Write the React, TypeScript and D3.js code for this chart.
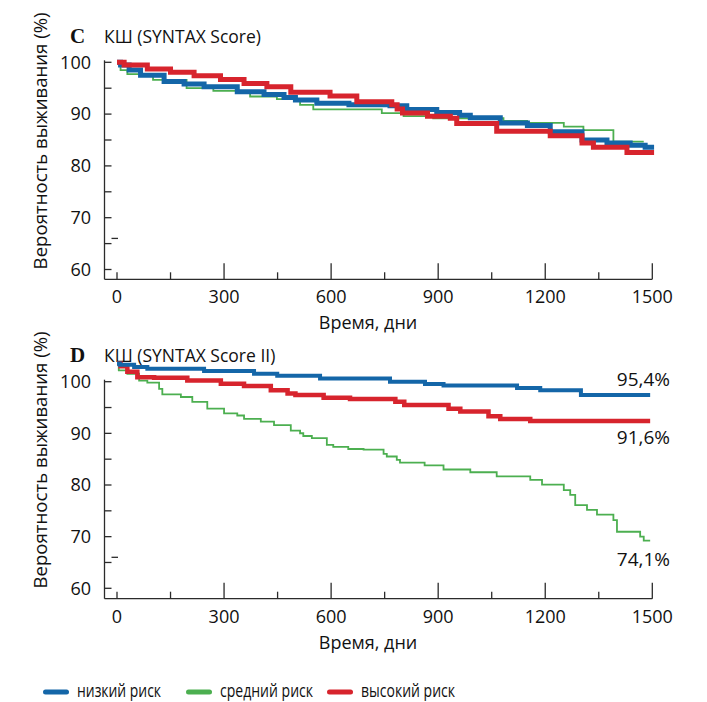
import React from "react";
import * as d3 from "d3";

type Point = [number, number]; // [day, survival %]

const X_TICKS = [0, 300, 600, 900, 1200, 1500];
const X_MINOR_TICKS = [150, 450, 750, 1050, 1350];
const Y_TICKS = [60, 70, 80, 90, 100];
const Y_MINOR_TICKS = [65, 75, 85, 95];
const STRAY_MARK = 66;

const RISK_LABELS = ["низкий риск", "средний риск", "высокий риск"];
const RISK_COLORS = ["#1466a8", "#4caf50", "#d7242d"];

// Panel C — КШ by SYNTAX Score
const syntaxLow: Point[] = [
  [0, 100], [10, 99.5], [34, 98.5], [66, 97.5], [132, 96.3], [188, 95.8], [244, 95.3],
  [337, 94.3], [412, 93.8], [468, 93.2], [500, 92.7], [560, 92.1], [650, 91.8], [765, 91.6],
  [812, 90.9], [896, 90.3], [960, 89.8], [990, 89.3], [1074, 88.3], [1150, 87.8],
  [1214, 86.6], [1303, 85.0], [1373, 84.4], [1438, 84.0], [1480, 83.6], [1505, 83.6],
];
const syntaxMid: Point[] = [
  [0, 100], [10, 98.5], [29, 97.7], [101, 96.6], [195, 95.0], [270, 94.5], [373, 93.4],
  [448, 92.9], [513, 91.8], [550, 90.9], [742, 90.2], [803, 89.6], [886, 89.2],
  [1083, 88.7], [1149, 88.3], [1252, 87.6], [1307, 86.9], [1391, 84.7], [1476, 84.7],
];
const syntaxHigh: Point[] = [
  [0, 100], [20, 99.5], [85, 98.7], [150, 98.1], [216, 97.4], [290, 96.7], [356, 95.9],
  [420, 95.3], [487, 94.2], [597, 93.5], [672, 92.4], [770, 91.8], [785, 91.0], [800, 90.2],
  [870, 89.6], [934, 89.2], [952, 88.2], [1064, 86.7], [1214, 85.8], [1303, 84.4],
  [1335, 83.6], [1429, 82.6], [1505, 82.6],
];

// Panel D — КШ by SYNTAX Score II
const syntax2Low: Point[] = [
  [0, 100], [8, 99.8], [48, 99.5], [85, 99.25], [244, 98.9], [384, 98.5], [449, 98.2],
  [569, 97.8], [765, 97.35], [863, 97.0], [915, 96.8], [1121, 96.4], [1186, 96.1],
  [1300, 95.4], [1494, 95.4],
];
const syntax2Mid: Point[] = [
  [0, 100], [5, 99.0], [29, 98.5], [62, 97.5], [85, 97.2], [118, 96.3], [127, 95.5],
  [179, 95.1], [211, 94.4], [253, 93.4], [300, 92.7], [337, 92.4], [356, 91.9], [403, 91.5],
  [440, 91.0], [487, 90.2], [513, 89.8], [522, 89.4], [546, 89.1], [588, 88.1], [606, 87.8],
  [648, 87.5], [691, 87.4], [747, 86.8], [756, 86.4], [784, 85.9], [793, 85.5], [862, 85.1],
  [915, 84.5], [990, 84.1], [1064, 83.5], [1158, 83.0], [1191, 82.3], [1252, 81.5],
  [1270, 80.8], [1284, 79.3], [1317, 78.6], [1345, 77.9], [1391, 77.1], [1401, 75.4],
  [1466, 74.7], [1476, 74.1], [1494, 74.1],
];
const syntax2High: Point[] = [
  [0, 100], [10, 99.6], [29, 98.8], [57, 98.0], [104, 97.9], [197, 97.5], [291, 97.05],
  [356, 96.7], [431, 96.1], [478, 95.6], [500, 95.4], [579, 95.0], [653, 94.8], [780, 94.4],
  [805, 93.95], [929, 93.4], [962, 93.0], [1041, 92.3], [1074, 91.9], [1158, 91.6],
  [1494, 91.6],
];

const FONT = "'Open Sans', 'Noto Sans', sans-serif";
const AXIS_COLOR = "#2b2b2b";
const X_RANGE: [number, number] = [117, 652.3];
const AXIS_X = 104.5;

interface PanelSpec {
  letter: string;
  title: string;
  titleBaseline: number;
  y60: number;
  y100: number;
  base: number;
  curve60: number;
  curve100: number;
  series: Point[][];
  widths: number[];
  order: number[];
  endLabelOffsets?: number[];
}

const fmtPct = (v: number) => d3.format(".1f")(v).replace(".", ",") + "%";

function Panel({ p }: { p: PanelSpec }) {
  const x = d3.scaleLinear().domain([0, 1500]).range(X_RANGE);
  const yAxis = d3.scaleLinear().domain([60, 100]).range([p.y60, p.y100]);
  const yCurve = d3.scaleLinear().domain([60, 100]).range([p.curve60, p.curve100]);
  const line = d3
    .line<Point>()
    .x((d) => x(d[0]))
    .y((d) => yCurve(d[1]))
    .curve(d3.curveStepAfter);
  const yTitleCenter = (yAxis(60) + yAxis(100)) / 2 - 25;

  return (
    <g>
      <text x={70} y={p.titleBaseline} fontFamily="'Liberation Serif', serif" fontWeight="bold" fontSize={21} fill="#111">
        {p.letter}
      </text>
      <text x={104} y={p.titleBaseline} fontFamily={FONT} fontSize={17.5} fill="#111">
        {p.title}
      </text>

      {/* y axis */}
      <line x1={AXIS_X} x2={AXIS_X} y1={yAxis(100) - 2} y2={p.base} stroke={AXIS_COLOR} strokeWidth={1.3} />
      {[...Y_TICKS, ...Y_MINOR_TICKS].map((t) => (
        <line key={"yt" + t} x1={AXIS_X} x2={AXIS_X + 7} y1={yAxis(t)} y2={yAxis(t)} stroke={AXIS_COLOR} strokeWidth={1.3} />
      ))}
      <line x1={AXIS_X + 7} x2={AXIS_X + 13.5} y1={yAxis(STRAY_MARK)} y2={yAxis(STRAY_MARK)} stroke={AXIS_COLOR} strokeWidth={1.3} />
      {Y_TICKS.map((t) => (
        <text key={"yl" + t} x={91} y={yAxis(t)} dy="0.35em" textAnchor="end" fontFamily={FONT} fontSize={18} fill="#111">
          {t}
        </text>
      ))}
      <text
        transform={`translate(46.5, ${yTitleCenter}) rotate(-90)`}
        textAnchor="middle"
        fontFamily={FONT}
        fontSize={18.6}
        fill="#111"
      >
        Вероятность выживания (%)
      </text>

      {/* x axis */}
      <line x1={AXIS_X} x2={x(1500)} y1={p.base} y2={p.base} stroke={AXIS_COLOR} strokeWidth={1.3} />
      {X_TICKS.map((t) => (
        <line key={"xt" + t} x1={x(t)} x2={x(t)} y1={p.base} y2={p.base - (t === 0 ? 7 : 16)} stroke={AXIS_COLOR} strokeWidth={1.3} />
      ))}
      {X_MINOR_TICKS.map((t) => (
        <line key={"xm" + t} x1={x(t)} x2={x(t)} y1={p.base} y2={p.base - 7} stroke={AXIS_COLOR} strokeWidth={1.3} />
      ))}
      {X_TICKS.map((t) => (
        <text key={"xl" + t} x={x(t)} y={p.base + 24} textAnchor="middle" fontFamily={FONT} fontSize={18} fill="#111">
          {t}
        </text>
      ))}
      <text x={368} y={p.base + 50} textAnchor="middle" fontFamily={FONT} fontSize={18} fill="#111">
        Время, дни
      </text>

      {/* survival curves */}
      {p.order.map((i) => (
        <path
          key={"s" + i}
          d={line(p.series[i]) ?? ""}
          fill="none"
          stroke={RISK_COLORS[i]}
          strokeWidth={p.widths[i]}
          strokeLinejoin="miter"
        />
      ))}

      {p.endLabelOffsets &&
        p.series.map((s, i) => {
          const last = s[s.length - 1];
          return (
            <text
              key={"el" + i}
              x={670}
              y={yCurve(last[1]) + p.endLabelOffsets![i]}
              textAnchor="end"
              fontFamily={FONT}
              fontSize={19}
              fill="#111"
            >
              {fmtPct(last[1])}
            </text>
          );
        })}
    </g>
  );
}

const panelC: PanelSpec = {
  letter: "C",
  title: "КШ (SYNTAX Score)",
  titleBaseline: 43.3,
  y60: 269.5,
  y100: 62.3,
  base: 279.3,
  curve60: 269.5,
  curve100: 62.3,
  series: [syntaxLow, syntaxMid, syntaxHigh],
  widths: [5, 1.8, 5],
  order: [1, 0, 2],
};

const panelD: PanelSpec = {
  letter: "D",
  title: "КШ (SYNTAX Score II)",
  titleBaseline: 361.7,
  y60: 588.3,
  y100: 381.7,
  base: 598.7,
  curve60: 637.1,
  curve100: 363.5,
  series: [syntax2Low, syntax2Mid, syntax2High],
  widths: [4, 1.8, 4.5],
  order: [1, 2, 0],
  endLabelOffsets: [-9, 25, 23.5],
};

const LEGEND_X = [43, 186, 327];
const LEGEND_TEXT_LEN = [84, 93, 94];

export default function App() {
  return (
    <svg
      width={707}
      height={702}
      viewBox="0 0 707 702"
      style={{ position: "absolute", left: 0, top: 0, background: "#fff" }}
    >
      <rect width={707} height={702} fill="#fff" />
      <Panel p={panelC} />
      <Panel p={panelD} />
      <g>
        {RISK_LABELS.map((label, i) => (
          <g key={label}>
            <line
              x1={LEGEND_X[i] + 2.5}
              x2={LEGEND_X[i] + 23.5}
              y1={692}
              y2={692}
              stroke={RISK_COLORS[i]}
              strokeWidth={5}
              strokeLinecap="round"
            />
            <text
              x={LEGEND_X[i] + 34}
              y={696.5}
              fontFamily={FONT}
              fontSize={18}
              textLength={LEGEND_TEXT_LEN[i]}
              lengthAdjust="spacingAndGlyphs"
              fill="#111"
            >
              {label}
            </text>
          </g>
        ))}
      </g>
    </svg>
  );
}
